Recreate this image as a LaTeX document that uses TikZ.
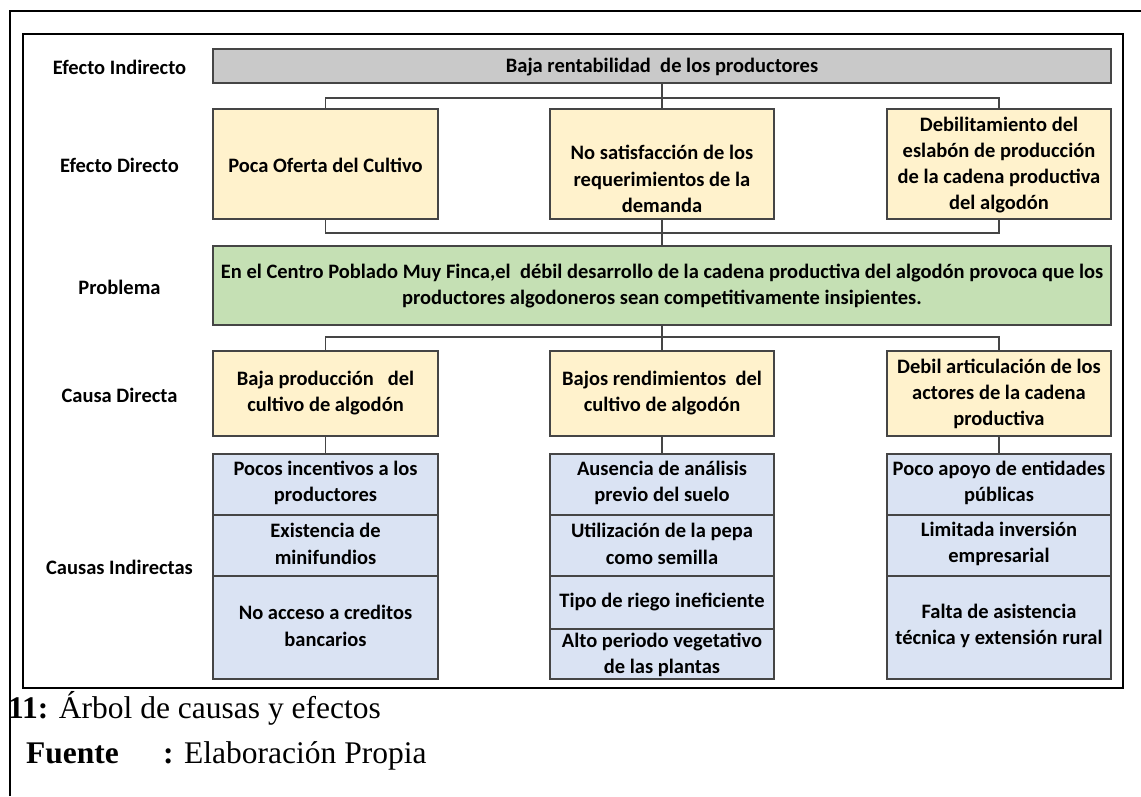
\documentclass[tikz,border=0pt]{standalone}
\usepackage{fontspec}
\setmainfont{Liberation Serif}
\newfontfamily\boxfont{Carlito}
\definecolor{graybar}{HTML}{C9C9C9}
\definecolor{yel}{HTML}{FFF2CC}
\definecolor{grn}{HTML}{C5E0B4}
\definecolor{blu}{HTML}{DAE3F3}
\definecolor{bord}{HTML}{454545}
\tikzset{
  frame/.style={line width=2pt, draw=black},
  box/.style={draw=bord, line width=1.3pt, inner sep=0pt, outer sep=0pt},
  gbox/.style={box, fill=graybar},
  ybox/.style={box, fill=yel},
  grbox/.style={box, fill=grn},
  bbox/.style={box, fill=blu},
  txt/.style={align=center, inner sep=0pt, font=\boxfont\bfseries\fontsize{20.5}{26.3}\selectfont},
  lbl/.style={inner sep=0pt, font=\boxfont\bfseries\fontsize{20.5}{26.3}\selectfont},
  conn/.style={draw=bord, line width=1.1pt},
  captxt/.style={inner sep=0pt, anchor=base west, font=\fontsize{31.5}{36}\selectfont}
}
\begin{document}
\begin{tikzpicture}[x=1pt, y=-1pt]
\useasboundingbox (0,0) rectangle (1141,796);
\fill[white] (0,0) rectangle (1141,796);
% outer frame (partial)
\draw[frame] (10,796) -- (10,11) -- (1141,11);
% inner frame
\draw[frame] (23,34) rectangle (1123,688);

% row labels
\node[lbl] (l1) at (119.5,67) {Efecto Indirecto};
\node[lbl] (l2) at (119.5,165) {Efecto Directo};
\node[lbl] (l3) at (119.5,287) {Problema};
\node[lbl] (l4) at (119.5,395) {Causa Directa};
\node[lbl] (l5) at (119.5,567) {Causas Indirectas};

% efecto indirecto
\node[gbox, minimum width=898, minimum height=34] (ei) at (662,66) {};
\node[txt] (tei) at (662,67) {Baja rentabilidad\ \ de los productores};

% efecto directo
\node[ybox, minimum width=225, minimum height=110] (ed1) at (325.5,164) {};
\node[ybox, minimum width=224, minimum height=110] (ed2) at (662,164) {};
\node[ybox, minimum width=224, minimum height=110] (ed3) at (999,164) {};
\node[txt] (ted1) at (325.5,165) {Poca Oferta del Cultivo};
\node[txt] (ted2) at (662,179) {No satisfacción de los\\requerimientos de la\\demanda};
\node[txt] (ted3) at (999,165) {Debilitamiento del\\eslabón de producción\\de la cadena productiva\\del algodón};

% problema
\node[grbox, minimum width=898, minimum height=79] (pr) at (662,285.5) {};
\node[txt] (tpr) at (662,286) {En el Centro Poblado Muy Finca,el\ \ débil desarrollo de la cadena productiva del algodón provoca que los\\productores algodoneros sean competitivamente insipientes.};

% causa directa
\node[ybox, minimum width=225, minimum height=85] (cd1) at (325.5,393.5) {};
\node[ybox, minimum width=224, minimum height=85] (cd2) at (662,393.5) {};
\node[ybox, minimum width=224, minimum height=85] (cd3) at (999,393.5) {};
\node[txt] (tcd1) at (325.5,393) {Baja producción\ \ \ del\\cultivo de algodón};
\node[txt] (tcd2) at (662,393) {Bajos rendimientos\ \ del\\cultivo de algodón};
\node[txt] (tcd3) at (999,394) {Debil articulación de los\\actores de la cadena\\productiva};

% causas indirectas - column 1
\node[bbox, minimum width=225, minimum height=61] (a1) at (325.5,484.5) {};
\node[bbox, minimum width=225, minimum height=61] (a2) at (325.5,545.5) {};
\node[bbox, minimum width=225, minimum height=103] (a3) at (325.5,627.5) {};
\node[txt] (ta1) at (325.5,483) {Pocos incentivos a los\\productores};
\node[txt] (ta2) at (325.5,544) {Existencia de\\minifundios};
\node[txt] (ta3) at (325.5,626) {No acceso a creditos\\bancarios};
% column 2
\node[bbox, minimum width=224, minimum height=61] (b1) at (662,484.5) {};
\node[bbox, minimum width=224, minimum height=61] (b2) at (662,545.5) {};
\node[bbox, minimum width=224, minimum height=53] (b3) at (662,602.5) {};
\node[bbox, minimum width=224, minimum height=50] (b4) at (662,654) {};
\node[txt] (tb1) at (662,483) {Ausencia de análisis\\previo del suelo};
\node[txt] (tb2) at (662,544) {Utilización de la pepa\\como semilla};
\node[txt] (tb3) at (662,602) {Tipo de riego ineficiente};
\node[txt] (tb4) at (662,655) {Alto periodo vegetativo\\de las plantas};
% column 3
\node[bbox, minimum width=224, minimum height=61] (c1) at (999,484.5) {};
\node[bbox, minimum width=224, minimum height=61] (c2) at (999,545.5) {};
\node[bbox, minimum width=224, minimum height=103] (c3) at (999,627.5) {};
\node[txt] (tc1) at (999,483) {Poco apoyo de entidades\\públicas};
\node[txt] (tc2) at (999,544) {Limitada inversión\\empresarial};
\node[txt] (tc3) at (999,626) {Falta de asistencia\\técnica y extensión rural};

% connectors
\coordinate (j1) at (662,98);
\coordinate (j2) at (662,233);
\coordinate (j3) at (662,337);
\draw[conn] (ei.south) -- (ed2.north);
\draw[conn] (ed1.north) |- (j1) -| (ed3.north);
\draw[conn] (ed2.south) -- (pr.north);
\draw[conn] (ed1.south) |- (j2) -| (ed3.south);
\draw[conn] (pr.south) -- (cd2.north);
\draw[conn] (cd1.north) |- (j3) -| (cd3.north);
\draw[conn] (cd1.south) -- (a1.north);
\draw[conn] (cd2.south) -- (b1.north);
\draw[conn] (cd3.south) -- (c1.north);

% caption
\node[captxt] (cap1) at (8,718) {\textbf{11:} Árbol de causas y efectos};
\node[captxt] (cap2) at (26,763) {\textbf{Fuente}};
\node[captxt] (cap3) at (163,763) {\textbf{:} Elaboración Propia};
\end{tikzpicture}
\end{document}
